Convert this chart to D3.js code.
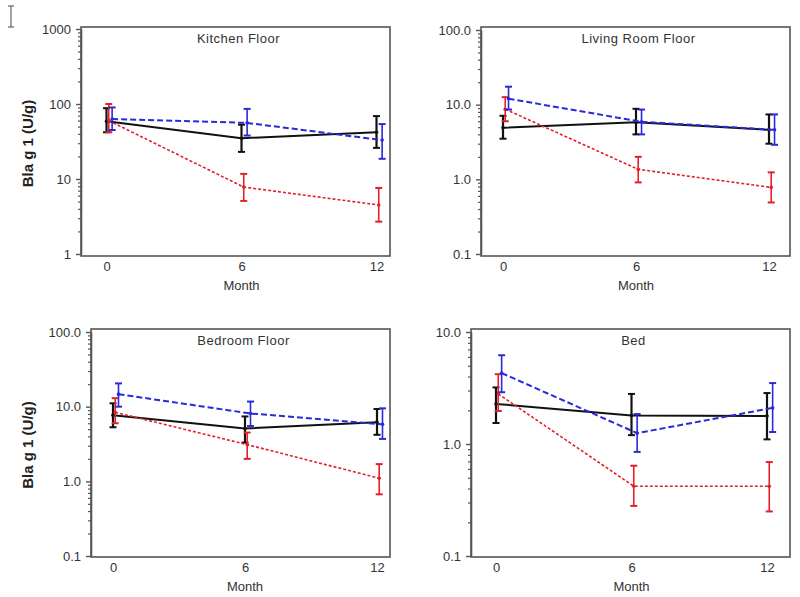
<!DOCTYPE html>
<html>
<head>
<meta charset="utf-8">
<script src="https://cdn.jsdelivr.net/npm/d3@7"></script>
<style>
  html, body { margin: 0; padding: 0; background: #fff; }
  svg { display: block; font-family: "Liberation Sans", Arial, sans-serif; }
</style>
</head>
<body>
<svg id="chart" width="800" height="597"></svg>
<script>
// ---------- DATA ----------
const panelTitles = ["Kitchen Floor", "Living Room Floor", "Bedroom Floor", "Bed"];
const months = [0, 6, 12];
const seriesNames = ["black", "red", "blue"];
const seriesColors = ["#111111", "#e3202c", "#2a2ad8"];
const seriesOffsets = [0, 0.1, 0.25];

const kitchenTicks = ["1", "10", "100", "1000"];
const livingTicks = ["0.1", "1.0", "10.0", "100.0"];
const bedroomTicks = ["0.1", "1.0", "10.0", "100.0"];
const bedTicks = ["0.1", "1.0", "10.0"];

// rows: black, red, blue ; columns: month 0, 6, 12
const kitchenMean  = [[59, 35, 42], [60, 7.8, 4.5], [63, 56, 33]];
const kitchenLower = [[42, 23, 26], [42, 5.1, 2.7], [45, 38, 18.6]];
const kitchenUpper = [[88, 53, 69], [100, 11.7, 7.6], [90, 86, 54]];

const livingMean  = [[4.9, 5.8, 4.6], [8.7, 1.36, 0.78], [12, 5.9, 4.6]];
const livingLower = [[3.5, 4.0, 3.0], [6.0, 0.91, 0.49], [8.6, 4.0, 2.9]];
const livingUpper = [[7.1, 8.8, 7.4], [12.6, 2.0, 1.24], [17.4, 8.6, 7.4]];

const bedroomMean  = [[7.7, 5.1, 6.2], [8.4, 3.1, 1.1], [14.7, 8.1, 5.8]];
const bedroomLower = [[5.3, 3.3, 4.2], [6.0, 2.0, 0.67], [10, 5.5, 3.7]];
const bedroomUpper = [[11.1, 7.4, 9.3], [13, 4.5, 1.7], [20.5, 11.7, 9.5]];

const bedMean  = [[2.28, 1.8, 1.78], [2.8, 0.42, 0.42], [4.3, 1.25, 2.1]];
const bedLower = [[1.54, 1.2, 1.1], [1.97, 0.28, 0.25], [2.9, 0.85, 1.28]];
const bedUpper = [[3.2, 2.8, 2.85], [4.2, 0.64, 0.69], [6.2, 1.85, 3.5]];

// ---------- LAYOUT ----------
const layouts = [
  { left: 81, right: 390, top: 27, bottom: 256, x0: 106.5, x12: 376.5, yTop: 29, yBot: 254, dom: [1, 1000] },
  { left: 481, right: 790, top: 27, bottom: 256, x0: 503, x12: 769, yTop: 30, yBot: 254, dom: [0.1, 100] },
  { left: 91, right: 390, top: 329, bottom: 557, x0: 113, x12: 377, yTop: 332, yBot: 556, dom: [0.1, 100] },
  { left: 471, right: 790, top: 329, bottom: 557, x0: 496, x12: 767, yTop: 332, yBot: 556, dom: [0.1, 10] }
];
const panelData = [
  { mean: kitchenMean, lo: kitchenLower, hi: kitchenUpper, ticks: kitchenTicks, ylabel: true },
  { mean: livingMean, lo: livingLower, hi: livingUpper, ticks: livingTicks, ylabel: false },
  { mean: bedroomMean, lo: bedroomLower, hi: bedroomUpper, ticks: bedroomTicks, ylabel: true },
  { mean: bedMean, lo: bedLower, hi: bedUpper, ticks: bedTicks, ylabel: false }
];
const lineStyles = [
  { width: 2, dash: null },
  { width: 1.6, dash: "3,2" },
  { width: 2, dash: "6,3" }
];

const svg = d3.select("#chart");
const textColor = "#333";
const axisColor = "#555";

// small I-beam glyph at top-left
const glyph = svg.append("g").attr("stroke", "#666").attr("stroke-width", 1.2);
glyph.append("line").attr("x1", 11).attr("x2", 11).attr("y1", 6).attr("y2", 27);
glyph.append("line").attr("x1", 8).attr("x2", 14).attr("y1", 6).attr("y2", 6);
glyph.append("line").attr("x1", 8).attr("x2", 14).attr("y1", 27).attr("y2", 27);

layouts.forEach((L, pi) => {
  const P = panelData[pi];
  const g = svg.append("g");
  const x = d3.scaleLinear().domain([0, 12]).range([L.x0, L.x12]);
  const y = d3.scaleLog().domain(L.dom).range([L.yBot, L.yTop]);

  // plot frame
  g.append("rect")
    .attr("x", L.left).attr("y", L.top)
    .attr("width", L.right - L.left).attr("height", L.bottom - L.top)
    .attr("fill", "none").attr("stroke", axisColor).attr("stroke-width", 1.6);

  // y axis: major and minor ticks
  const decades = d3.range(Math.round(Math.log10(L.dom[0])), Math.round(Math.log10(L.dom[1])) + 1);
  const majors = decades.map(d => Math.pow(10, d));
  const minors = [];
  decades.slice(0, -1).forEach(d => { for (let k = 2; k <= 9; k++) minors.push(k * Math.pow(10, d)); });

  const minorAxis = d3.axisLeft(y).tickValues(minors).tickSize(3).tickSizeOuter(0).tickFormat("");
  const gMin = g.append("g").attr("transform", `translate(${L.left},0)`).call(minorAxis);
  gMin.select(".domain").remove();
  gMin.selectAll("line").attr("stroke", axisColor).attr("stroke-width", 1.2);

  const majorAxis = d3.axisLeft(y).tickValues(majors).tickSize(5).tickPadding(5).tickSizeOuter(0)
    .tickFormat((d, i) => P.ticks[i]);
  const gMaj = g.append("g").attr("transform", `translate(${L.left},0)`).call(majorAxis);
  gMaj.select(".domain").attr("stroke", axisColor).attr("stroke-width", 1.6);
  gMaj.selectAll("line").attr("stroke", axisColor).attr("stroke-width", 1.4);
  gMaj.selectAll("text").attr("font-size", 13).attr("fill", textColor)
    .attr("font-family", "'Liberation Sans', Arial, sans-serif");

  // x axis labels (no tick marks)
  const xAxis = d3.axisBottom(x).tickValues(months).tickSize(0).tickPadding(6).tickFormat(d3.format("d"));
  const gX = g.append("g").attr("transform", `translate(0,${L.bottom})`).call(xAxis);
  gX.select(".domain").remove();
  gX.selectAll("text").attr("font-size", 13).attr("fill", textColor)
    .attr("font-family", "'Liberation Sans', Arial, sans-serif");

  // x title
  g.append("text")
    .attr("x", (L.x0 + L.x12) / 2).attr("y", L.bottom + 34)
    .attr("text-anchor", "middle").attr("font-size", 13).attr("fill", textColor)
    .text("Month");

  // panel title
  g.append("text")
    .attr("x", (L.left + L.right) / 2 + 3).attr("y", L.top + 16)
    .attr("text-anchor", "middle").attr("font-size", 13).attr("letter-spacing", 0.5)
    .attr("fill", textColor).text(panelTitles[pi]);

  // y label
  if (P.ylabel) {
    const cy = (L.top + L.bottom) / 2 + 2;
    g.append("text")
      .attr("transform", `translate(33,${cy}) rotate(-90)`)
      .attr("text-anchor", "middle").attr("font-size", 15).attr("font-weight", "bold")
      .attr("fill", "#222").text("Bla g 1 (U/g)");
  }

  // series
  seriesNames.forEach((s, si) => {
    const color = seriesColors[si];
    const off = seriesOffsets[si];
    const st = lineStyles[si];
    const pts = months.map((m, mi) => ({ m: m + off, v: P.mean[si][mi], lo: P.lo[si][mi], hi: P.hi[si][mi] }));
    const line = d3.line().x(d => x(d.m)).y(d => y(d.v));
    g.append("path").datum(pts)
      .attr("d", line).attr("fill", "none").attr("stroke", color)
      .attr("stroke-width", st.width)
      .attr("stroke-dasharray", st.dash);

    const eb = g.append("g").attr("stroke", color).attr("fill", color);
    const ebw = si === 0 ? 2.2 : 1.6;
    pts.forEach(d => {
      const cx = x(d.m);
      eb.append("line").attr("x1", cx).attr("x2", cx).attr("y1", y(d.lo)).attr("y2", y(d.hi)).attr("stroke-width", ebw);
      [d.lo, d.hi].forEach(v => {
        eb.append("line").attr("x1", cx - 3.5).attr("x2", cx + 3.5).attr("y1", y(v)).attr("y2", y(v)).attr("stroke-width", 2);
      });
      eb.append("circle").attr("cx", cx).attr("cy", y(d.v)).attr("r", 1.8).attr("stroke", "none");
    });
  });
});
</script>
</body>
</html>
